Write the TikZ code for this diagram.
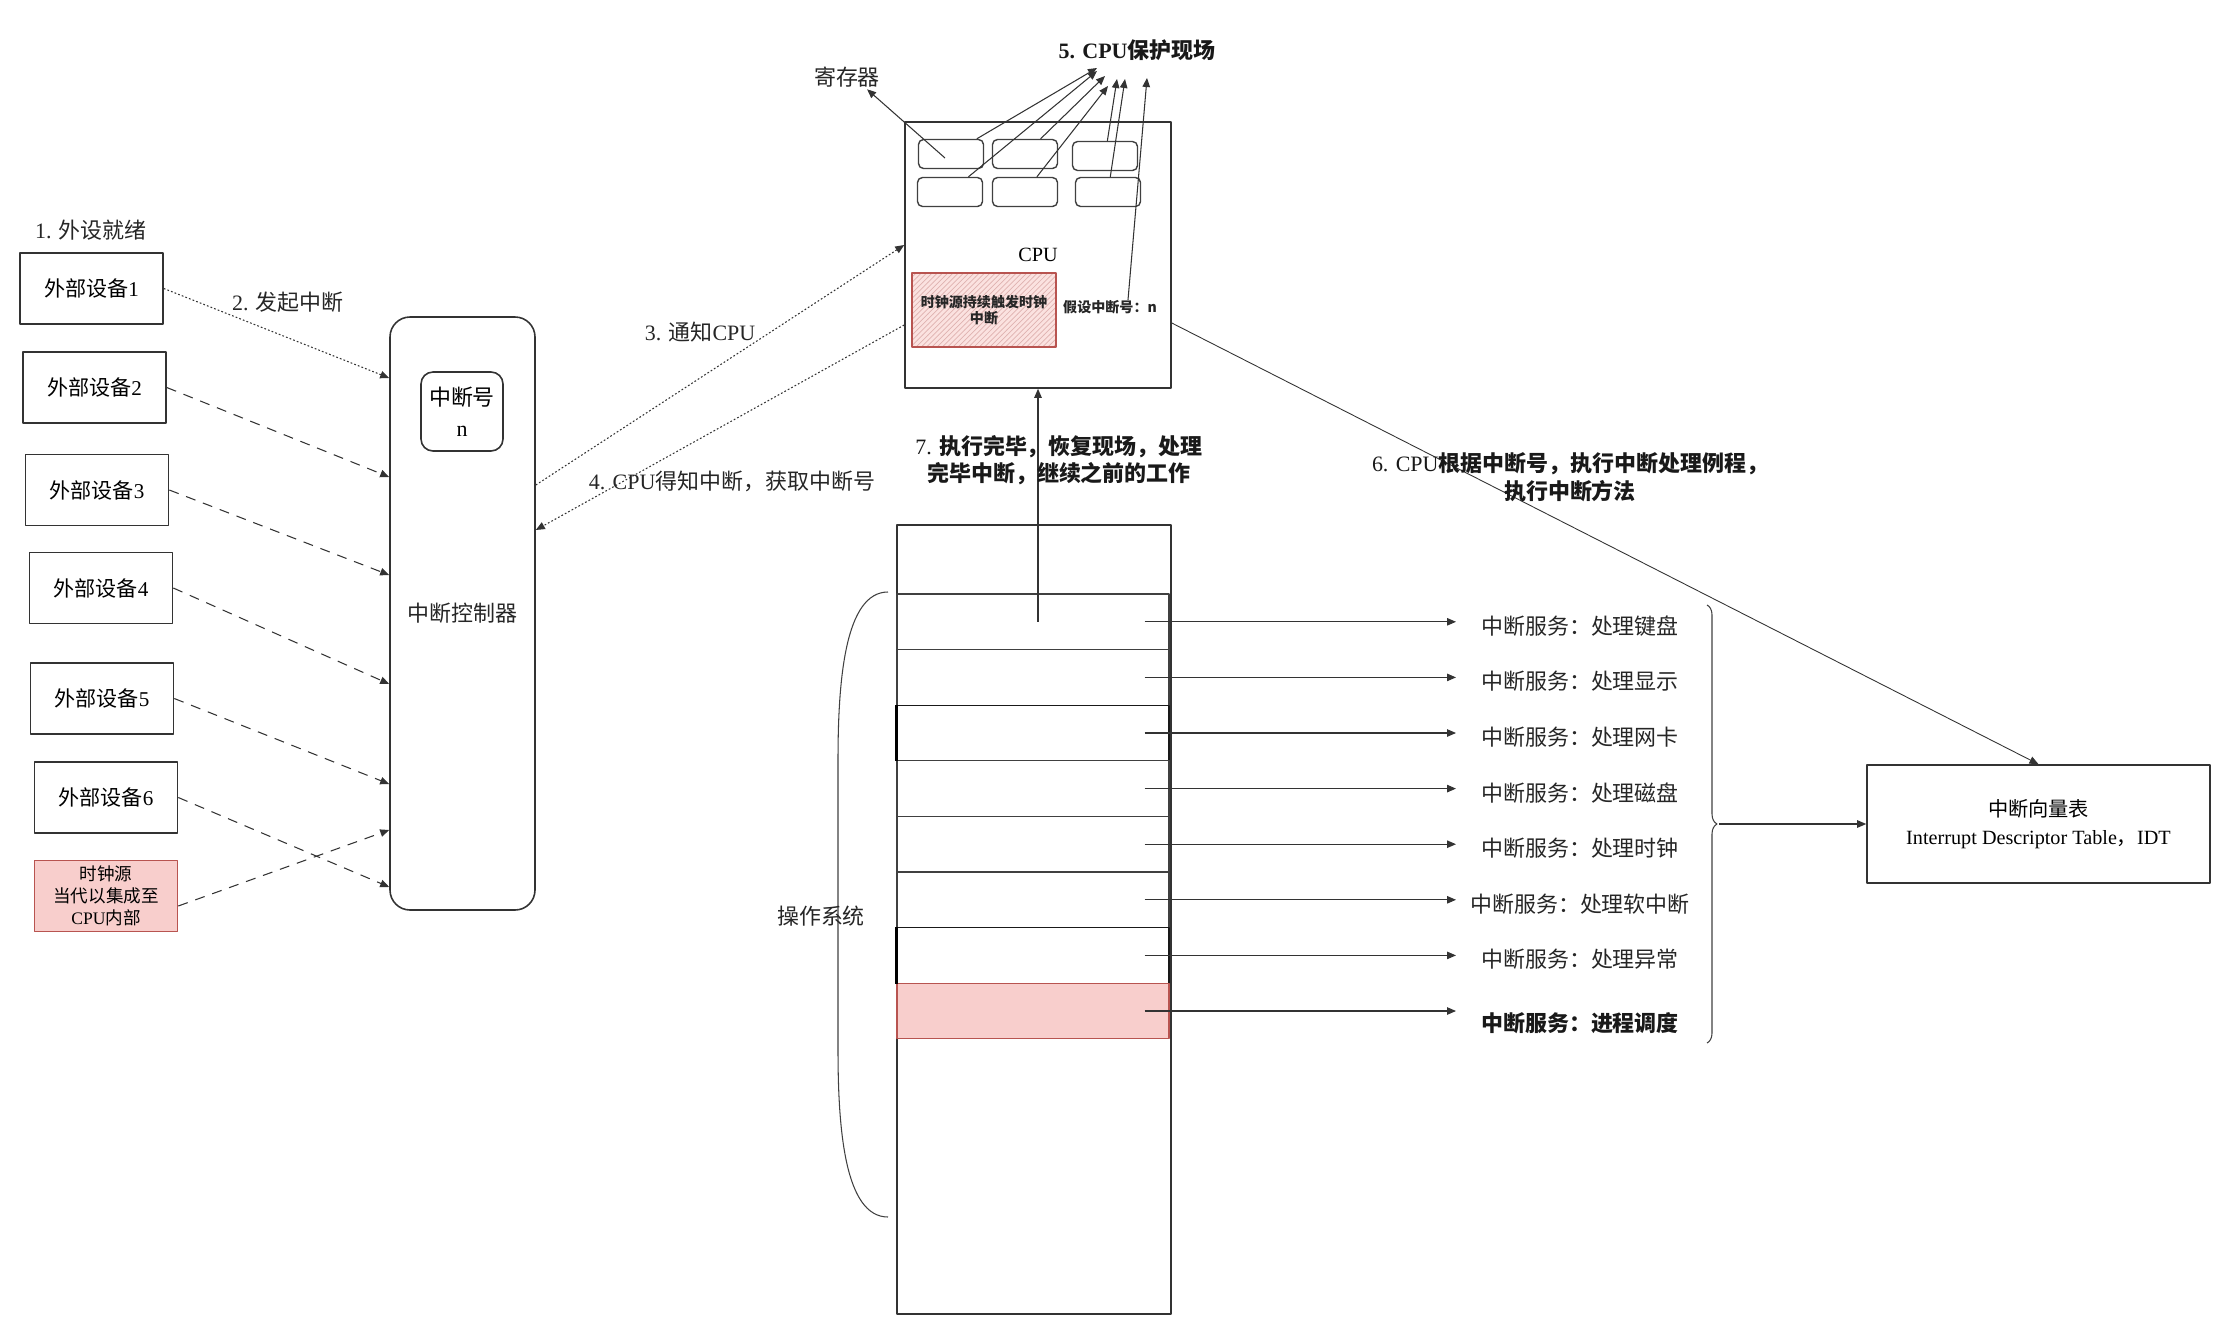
\documentclass[tikz,border=0pt]{standalone}
\usepackage{fontspec}
\setmainfont{Liberation Serif}
\newfontfamily\cjk{Noto Sans CJK SC}
\newcommand{\zh}[1]{{\cjk #1}}
\usetikzlibrary{arrows.meta, positioning, decorations.pathreplacing, patterns}
\definecolor{pinkfill}{HTML}{F8CECC}
\definecolor{pinkline}{HTML}{B85450}

\begin{document}
\begin{tikzpicture}[x=0.2mm, y=-0.2mm, line join=round,
  txt/.style={font=\fontsize{12.5}{15}\selectfont, text=black!85, inner sep=1pt, align=center},
  boldtxt/.style={font=\fontsize{12.5}{15.6}\selectfont\bfseries, text=black!90, align=center, inner sep=1pt},
  cpunote/.style={font=\fontsize{8}{9}\selectfont\bfseries, text=black!85, align=center, inner sep=0pt},
  devbox/.style={draw=black!80, line width=0.9pt, minimum width=28.6mm, minimum height=14.2mm, inner sep=0pt, align=center, font=\fontsize{12}{14}\selectfont},
  regbox/.style={draw=black!75, line width=0.8pt, rounded corners=1mm, minimum width=13mm, minimum height=5.8mm, inner sep=0pt},
  slot/.style={draw=black!75, line width=0.6pt, minimum width=54.4mm, minimum height=11.12mm, inner sep=0pt},
  slotplain/.style={},
  slotheavy/.style={draw=black!90},
  slothot/.style={fill=pinkfill, draw=pinkline},
  arr/.style={-{Triangle[length=1.8mm,width=1.5mm]}, draw=black!80, line width=0.6pt},
  dotline/.style={arr, dash pattern=on 1pt off 1.2pt},
  dashline/.style={arr, dash pattern=on 2mm off 1.6mm}]
\useasboundingbox (0,0) rectangle (2217,1321);

% devices and controller
\node[txt] (ready) at (91,230) {1. \zh{外设就绪}};
\foreach \i/\x/\y in {1/91.5/288.5, 2/94.5/387.5, 3/97/490, 4/101/588, 5/102/698.5, 6/106/797.5}
  \node[devbox] (dev\i) at (\x,\y) {\zh{外部设备}\i};
\node[devbox, fill=pinkfill, draw=pinkline, font=\fontsize{10}{12.4}\selectfont] (clk) at (106,896) {\zh{时钟源}\\\zh{当代以集成至}\\CPU\zh{内部}};
\node[txt] (raise) at (288,302) {2. \zh{发起中断}};
\node[txt, draw=black!80, line width=0.9pt, rounded corners=4mm, minimum width=29mm, minimum height=118.6mm] (ctrl) at (462.5,613.5) {\zh{中断控制器}};
\node[draw=black!80, line width=0.9pt, rounded corners=2.4mm, minimum width=16.4mm, minimum height=15.8mm, inner sep=0pt, align=center, font=\fontsize{12.5}{17.6}\selectfont] (irq) at (462,411.5) {\zh{中断号}\\n};
\draw[dotline] (dev1.east) -- (ctrl.west |- 0,378);
\foreach \i/\y in {2/477, 3/575, 4/684, 5/784, 6/887}
  \draw[dashline] (dev\i.east) -- (ctrl.west |- 0,\y);
\draw[dashline] ([yshift=-2mm]clk.east) -- (ctrl.west |- 0,830);

% cpu
\node[draw=black!80, line width=0.9pt, minimum size=53.2mm, inner sep=0pt, font=\fontsize{11.5}{13}\selectfont] (cpu) at (1038,255) {CPU};
\foreach \i/\x/\y in {1/951/154, 2/1025/154, 3/1105/156, 4/950/192, 5/1025/192, 6/1108/192}
  \node[regbox] (r\i) at (\x,\y) {};
\node[cpunote, draw=pinkline, line width=0.8pt, preaction={fill=pinkfill!60}, pattern=north east lines, pattern color=pinkline!45, minimum width=28.8mm, minimum height=14.8mm] (tick) at (984,310) {\zh{时钟源持续触发时钟}\\\zh{中断}};
\node[cpunote] (hyp) at (1110,307) {\zh{假设中断号：n}};
\node[txt] (regs) at (847,77) {\zh{寄存器}};
\node[boldtxt] (save) at (1137,50) {5. CPU\zh{保护现场}};
\draw[arr] ([xshift=-1.2mm,yshift=-0.8mm]r1.center) -- ([xshift=-3mm]regs.south east);
\foreach \s/\tx/\ty [count=\k] in {r1/1097/68, r2/1105/76, r4/1097/71, r5/1108/86, r3/1117/79, r6/1125/79} {
  \coordinate (tip\k) at (\tx,\ty);
  \draw[arr] (\s) -- (tip\k);
}
\coordinate (tip7) at (1147,78);
\draw[arr] ([xshift=3.6mm]hyp.north) -- (tip7);

% controller <-> cpu
\draw[dotline] (ctrl.east |- 0,485) -- (cpu.west |- 0,245);
\draw[dotline] (cpu.west |- 0,325) -- (ctrl.east |- 0,530);
\node[txt] (notify) at (700,332) {3. \zh{通知}CPU};
\node[txt] (fetch) at (732,481) {4. CPU\zh{得知中断，获取中断号}};

% memory
\node[draw=black!80, line width=0.8pt, minimum width=54.8mm, minimum height=157.8mm] (mem) at (1034,919.5) {};
\foreach \i/\s in {1/slotplain, 2/slotplain, 3/slotheavy, 4/slotplain, 5/slotplain, 6/slotplain, 7/slotheavy, 8/slothot}
  \node[slot, \s] (slot\i) at (1033,{594+(\i-0.5)*55.6}) {};
\foreach \i in {3,7}
  \draw[line width=1.5pt] (slot\i.north west) -- (slot\i.south west);
\draw[arr] (cpu.south |- slot1.center) -- (cpu.south);
\node[boldtxt] (resume) at (1059,460) {{\mdseries 7.} \zh{执行完毕，恢复现场，处理}\\\zh{完毕中断，继续之前的工作}};
\draw[line width=0.6pt, black!75] (888,592) .. controls (845,592) and (838,680) .. (838,760) -- (838,1050) .. controls (838,1130) and (845,1217) .. (888,1217);
\node[txt] (os) at (821,916) {\zh{操作系统}};

% services
\coordinate (aend) at (1456,0);
\foreach \i/\txt in {1/处理键盘, 2/处理显示, 3/处理网卡, 4/处理磁盘, 5/处理时钟, 6/处理软中断, 7/处理异常} {
  \node[txt] (svc\i) at (1580,{594+(\i-0.5)*55.6+4}) {\zh{中断服务：\txt}};
  \draw[arr] ([xshift=-5mm]slot\i.east) -- (slot\i.center -| aend);
}
\node[boldtxt] (svc8) at (1580,1023) {\zh{中断服务：进程调度}};
\draw[arr] ([xshift=-5mm]slot8.east) -- (slot8.center -| aend);
\draw[decorate, decoration={brace, amplitude=2mm}, line width=0.6pt, black!75] (1707,605) -- (1707,1043);
\coordinate (btip) at (1719,824);

% vector table
\node[draw=black!80, line width=0.9pt, minimum width=68.6mm, minimum height=23.6mm, align=center, font=\fontsize{11.5}{16}\selectfont] (idt) at (2038.5,824) {\zh{中断向量表}\\Interrupt Descriptor Table\zh{，}IDT};
\draw[arr] (btip) -- (idt.west);
\draw[arr, line width=0.5pt] (cpu.east |- 0,323) -- (idt.north);
\node[boldtxt] (dispatch) at (1570,477) {{\mdseries 6. CPU}\zh{根据中断号，执行中断处理例程，}\\\zh{执行中断方法}};
\end{tikzpicture}
\end{document}
